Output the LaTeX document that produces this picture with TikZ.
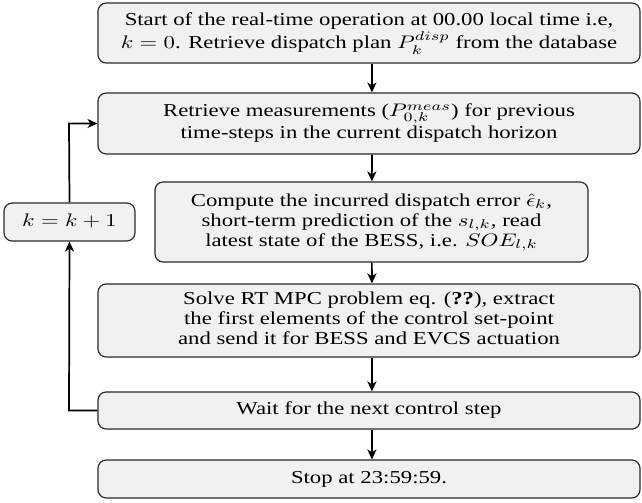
\documentclass[tikz,border=0pt]{standalone}
\usepackage[no-math]{fontspec}
\setmainfont{Liberation Serif}
\usepackage{graphicx}
\usetikzlibrary{arrows.meta}
\definecolor{boxfill}{HTML}{F1F1F1}
\definecolor{boxline}{HTML}{2A2A2A}
\newcommand{\wideline}[1]{\scalebox{1.25}[1.0]{\begin{tabular}{@{}c@{}}#1\end{tabular}}}
\begin{document}
\begin{tikzpicture}[x=0.55pt,y=-0.55pt,
  flowbox/.style={draw=boxline, line width=0.65pt, fill=boxfill, rounded corners=4.5pt,
    inner sep=0pt, align=center, font=\fontsize{10}{11}\selectfont},
  flowarrow/.style={line width=0.95pt, -{Stealth[length=5.5pt,width=5pt,inset=1.6pt]}}]
\useasboundingbox (0,0) rectangle (642,502);
\node[flowbox, minimum width=298.1pt, minimum height=33pt] (b1) at (369,33)
  {\wideline{Start of the real-time operation at 00.00 local time i.e,\\
   $k=0$. Retrieve dispatch plan $P_k^{disp}$ from the database}};
\node[flowbox, minimum width=298.1pt, minimum height=33.5pt] (b2) at (369,123.5)
  {\wideline{Retrieve measurements ($P_{0,k}^{meas}$) for previous\\
   time-steps in the current dispatch horizon}};
\node[flowbox, minimum width=238.2pt, minimum height=44pt] (b3) at (371.5,222)
  {\wideline{Compute the incurred dispatch error $\hat{\epsilon}_k$,\\
   short-term prediction of the $s_{l,k}$, read\\
   latest state of the BESS, i.e. $SOE_{l,k}$}};
\node[flowbox, minimum width=72pt, minimum height=20.9pt] (bk) at (69.5,222)
  {\wideline{$k=k+1$}};
\node[flowbox, minimum width=298.1pt, minimum height=40.2pt] (b4) at (369,320.5)
  {\wideline{Solve RT MPC problem eq. (\textbf{??}), extract\\
   the first elements of the control set-point\\
   and send it for BESS and EVCS actuation}};
\node[flowbox, minimum width=298.1pt, minimum height=20.4pt] (b5) at (369,410.5)
  {\wideline{Wait for the next control step}};
\node[flowbox, minimum width=298.1pt, minimum height=20.9pt] (b6) at (369,479)
  {\wideline{Stop at 23:59:59.}};
\coordinate (fbl) at (69,410.5);
\coordinate (fbt) at (69,123.5);
\draw[flowarrow] ([xshift=1.6pt]b1.south) -- ([xshift=1.6pt]b2.north);
\draw[flowarrow] ([xshift=1.6pt]b2.south) -- ([xshift=0.2pt]b3.north);
\draw[flowarrow] ([xshift=0.2pt]b3.south) -- ([xshift=1.6pt]b4.north);
\draw[flowarrow] ([xshift=1.6pt]b4.south) -- ([xshift=1.6pt]b5.north);
\draw[flowarrow] ([xshift=1.6pt]b5.south) -- ([xshift=1.6pt]b6.north);
\draw[flowarrow] (b5.west) -- (fbl) -- (bk.south);
\draw[flowarrow] (bk.north) -- (fbt) -- (b2.west);
\end{tikzpicture}
\end{document}
